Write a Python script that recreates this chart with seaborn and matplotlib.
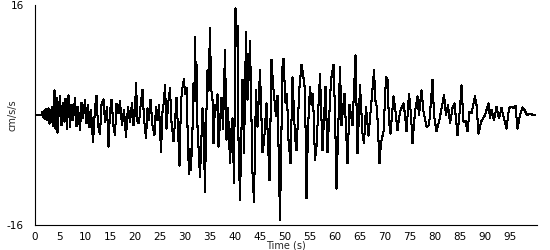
import matplotlib
matplotlib.use("Agg")
import matplotlib.pyplot as plt
import seaborn as sns
import pandas as pd

# time (s) and acceleration (cm/s/s)
time_s = [
    0, 1.3, 1.5, 1.7, 1.9, 2.1, 2.3, 2.5, 2.7, 2.9, 3.1, 3.3, 3.5, 3.7,
    3.9, 4.1, 4.3, 4.5, 4.8, 5.0, 5.3, 5.6, 5.9, 6.1, 6.4, 6.7, 7.0, 7.3, 7.6,
    8.0, 8.3, 8.6, 9.0, 9.3, 9.6, 10.0, 10.3, 10.6, 10.9, 11.2, 11.6, 12.0,
    12.3, 12.6, 13.0, 13.3, 13.7, 14.0, 14.4, 14.7, 15.0, 15.3, 15.7, 16.0,
    16.3, 16.7, 17.0, 17.4, 17.8, 18.2, 18.6, 19.0, 19.4, 19.7, 20.0, 20.2,
    20.5, 20.8, 21.1, 21.5, 21.8, 22.2, 22.5, 22.8, 23.1, 23.5, 23.9, 24.2,
    24.5, 24.8, 25.2, 25.5, 25.8, 26.0, 26.3, 26.6, 27.0, 27.3, 27.7, 28.0,
    28.3, 28.6, 28.9, 29.2, 29.5, 29.8, 30.0,
    30.3, 30.6, 30.8, 31.0, 31.2, 31.5, 31.7, 31.9, 32.0, 32.2, 32.3, 32.5,
    32.8, 33.0, 33.3, 33.5, 33.7, 34.0, 34.2, 34.5, 34.7, 35.0, 35.2, 35.5,
    35.7, 36.0, 36.3, 36.5, 36.7, 37.0, 37.3, 37.6, 38.0, 38.3, 38.6, 39.0,
    39.3, 39.5, 39.8, 40.1, 40.3, 40.5, 40.7, 41.0, 41.3, 41.5, 41.8, 42.2,
    42.5, 42.7, 43.0, 43.5, 43.8, 44.2, 44.5, 45.0, 45.5, 45.8, 46.3, 46.9,
    47.3, 47.6, 48.2, 48.5, 49.0, 49.5, 49.7, 50.1, 50.4, 50.7, 51.1, 51.5,
    52.0, 52.3, 52.9, 53.3, 53.6, 54.0, 54.3, 54.6, 55.0, 55.3, 55.6, 56.0,
    56.3, 57.0, 57.5, 58.1, 58.5, 59.2, 59.7, 60.0, 60.3, 61.0, 61.3, 61.9,
    62.5, 62.9, 63.5, 64.1, 64.5, 65.0, 65.5, 65.8, 66.2, 66.7, 67.3, 67.8,
    68.1, 68.4, 68.9, 69.2, 69.7, 70.2, 70.5, 70.8, 71.1, 71.7, 72.1, 72.5,
    73.0, 73.7, 74.0, 74.3, 74.8, 75.2, 75.5, 76.0, 76.5, 76.8, 77.3, 77.7,
    78.3, 78.8, 79.2, 79.5, 79.8, 80.3, 80.8, 81.2, 81.8, 82.2, 82.6, 83.0,
    83.5, 83.9, 84.5, 85.0, 85.3, 85.7, 86.1, 86.5, 86.9, 87.3, 88.0, 88.3,
    88.7, 89.2, 89.6, 90.0, 90.7, 91.0, 91.3, 91.8, 92.3, 92.8, 93.3, 93.8,
    94.3, 94.8, 95.3, 95.8, 96.1, 96.5, 97.0, 97.5, 98.0, 98.4, 98.8, 99.2,
    100.0,
]
accel = [
    0, 0, 0.5, -0.4, 0.7, -0.6, 0.9, -0.8, 1.0, -1.3, 0.8, -1.0, 1.2, -1.6,
    3.6, -2.0, 2.5, -2.6, 1.0, 2.8, -1.5, 1.8, -1.0, 2.4, -2.0, 2.9, -1.8, 1.5, -0.8,
    2.5, -1.6, 1.2, -2.2, 1.8, -0.5, 2.2, -1.2, 1.5, -1.8, 0.8, -4.0, 1.0,
    2.8, -1.5, -2.8, 1.5, 2.3, -1.0, 1.2, -4.6, 0.5, 2.2, -1.6, -2.9,
    1.6, 0.3, 2.0, -1.5, 0.8, -3.2, 1.2, -1.0, 1.8, -1.5, 0.5, 4.7,
    -1.0, -1.2, 1.2, 3.7, -0.5, -3.4, 1.0, -0.8, 2.2, -1.5, -2.9, 1.2,
    -0.8, 1.5, -5.4, 0.5, 2.0, 4.4, -2.0, 1.5, 3.9, -1.0, -3.8, -1.0,
    2.5, -2.0, -7.4, 2.0, 4.0, 5.2, 3.0,
    4.0, -4.5, -8.6, -5.0, -8.0, -2.0, 4.6, 2.0, 11.4, 4.0, 7.3, -1.7,
    -6.0, -9.0, -3.0, 1.0, -1.2, -11.2, -2.0, 6.5, 3.5, 12.6, 4.0, 2.2,
    -4.1, 1.5, 0.7, 3.0, -4.6, -1.0, 2.5, -2.0, 9.5, -3.6, 1.0, -7.0,
    -2.0, -0.5, -9.9, 15.5, 10.0, 13.0, -3.6, -12.4, -2.0, 5.1, -5.6, 12.1,
    2.2, 5.0, 10.7, -8.5, -12.6, 3.6, -1.7, 6.5, -5.4, -4.0, 1.7, -9.5,
    8.0, 4.5, -0.2, 2.8, -15.3, 7.0, 8.2, 1.8, 3.0, -3.6, -7.0, 5.5,
    -3.1, -5.1, 4.1, 7.3, 6.0, 3.6, -12.1, -2.0, 4.1, 1.5, 3.0, -6.6,
    -4.5, 5.9, -5.1, 4.1, -5.4, 5.1, 7.3, 0.5, -10.7, 7.0, -1.5, 3.1,
    -7.0, 1.5, -1.5, 8.7, -5.6, 4.3, -2.7, -4.1, 1.2, -3.0, 2.0, 6.5,
    2.0, 1.0, -7.0, -4.0, -2.4, 5.5, 5.2, -1.0, -2.7, 2.7, 0.5, -2.2,
    0.5, 1.7, 0.0, -2.4, 3.1, 0.0, -4.1, 0.5, 2.7, 0.0, 3.6, 0.5,
    -1.7, -1.5, 2.0, 5.1, 0.0, -2.4, -1.0, 0.5, 2.9, 0.0, 1.5, -1.2,
    1.0, 1.7, -2.9, 1.0, 4.3, -1.0, -0.8, -2.4, 0.5, 0.3, 2.7, 1.5,
    -2.7, -1.0, -0.5, 0.0, 1.7, -0.5, 0.8, -0.8, 1.2, -0.5, 1.0, -0.5,
    -2.0, 1.0, 1.2, 1.0, 1.3, -2.0, 0.0, 1.1, 0.6, 0.0, 0.1, 0.1,
    0.0,
]
x_ticks = list(range(0, 100, 5))
y_ticks = [-16, 16]

sns.set_style("white")
plt.rcParams["font.family"] = ["DejaVu Sans"]

df = pd.DataFrame({"t": time_s, "a": accel})

fig = plt.figure(figsize=(5.5, 2.5), dpi=100)
ax = fig.add_axes([35 / 550, 25 / 250, 502 / 550, 220 / 250])
sns.lineplot(data=df, x="t", y="a", color="black", linewidth=0.75,
             sort=False, estimator=None, ax=ax, antialiased=False)

ax.set_xlim(0, 100.4)
ax.set_ylim(-16, 16)
ax.set_xticks(x_ticks)
ax.set_xticklabels([str(v) for v in x_ticks], fontsize=7.5)
ax.set_yticks(y_ticks)
ax.set_yticklabels([str(v) for v in y_ticks], fontsize=7.5)
ax.tick_params(axis="x", direction="out", length=3, width=0.8, pad=2, colors="black")
ax.tick_params(axis="y", length=0, pad=8, colors="black")
for s in ["top", "right"]:
    ax.spines[s].set_visible(False)
for s in ["left", "bottom"]:
    ax.spines[s].set_color("black")
    ax.spines[s].set_linewidth(0.8)
ax.set_xlabel("Time (s)", fontsize=7, labelpad=-1)
ax.set_ylabel("cm/s/s", fontsize=7)
ax.yaxis.set_label_coords(-0.034, 0.5)
ax.grid(False)

fig.savefig("out.png", dpi=100, facecolor="white")
